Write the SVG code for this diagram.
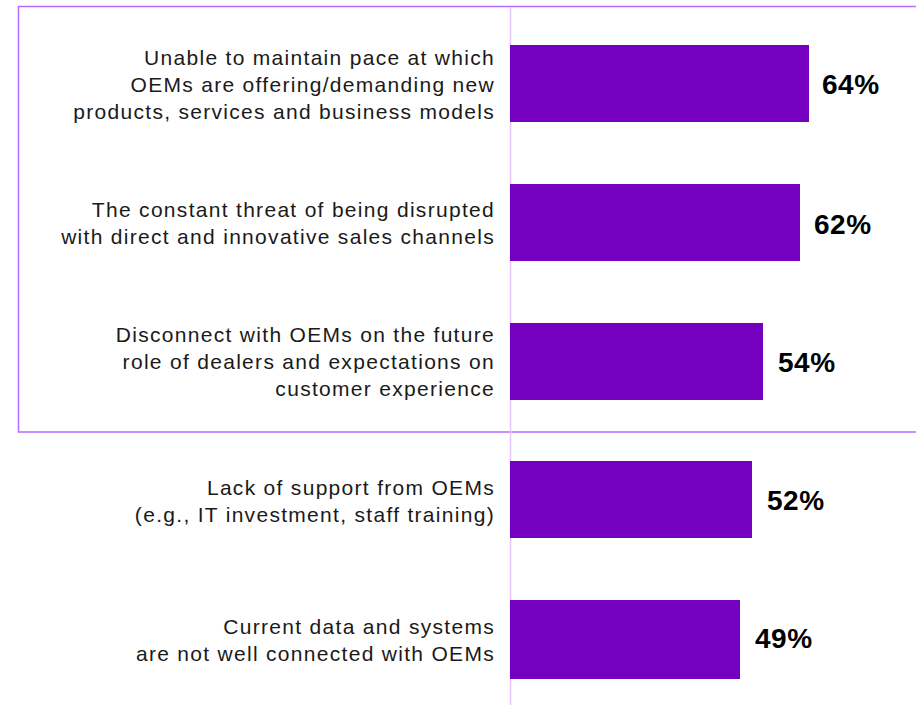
<svg xmlns="http://www.w3.org/2000/svg" width="916" height="705" viewBox="0 0 916 705">
<style>
.lbl{font-family:"Liberation Sans",Arial,sans-serif;font-size:21px;letter-spacing:1.3px;fill:#1a1a1a;text-anchor:end}
.val{font-family:"Liberation Sans",Arial,sans-serif;font-size:28px;font-weight:bold;letter-spacing:0.5px;fill:#000}
.bar{fill:#7500c0}
</style>
<rect x="0" y="0" width="916" height="705" fill="#fff"/>
<rect x="18.5" y="6.5" width="910" height="425.5" fill="none" stroke="#b46bff" stroke-width="1.5"/>
<g id="connectors">
<line x1="510.5" y1="7" x2="510.5" y2="705" stroke="#e4c6ff" stroke-width="1.5"/>
</g>
<g id="bar1">
<rect class="bar" x="510" y="45" width="299" height="77"/>
<text class="lbl" x="495"><tspan x="495" y="65">Unable to maintain pace at which</tspan><tspan x="495" y="92">OEMs are offering/demanding new</tspan><tspan x="495" y="119">products, services and business models</tspan></text>
<text class="val" x="822" y="94">64%</text>
</g>
<g id="bar2">
<rect class="bar" x="510" y="184" width="290" height="77"/>
<text class="lbl" x="495"><tspan x="495" y="217">The constant threat of being disrupted</tspan><tspan x="495" y="244">with direct and innovative sales channels</tspan></text>
<text class="val" x="814" y="234">62%</text>
</g>
<g id="bar3">
<rect class="bar" x="510" y="323" width="253" height="77"/>
<text class="lbl" x="495"><tspan x="495" y="342">Disconnect with OEMs on the future</tspan><tspan x="495" y="369">role of dealers and expectations on</tspan><tspan x="495" y="396">customer experience</tspan></text>
<text class="val" x="778" y="372">54%</text>
</g>
<g id="bar4">
<rect class="bar" x="510" y="461" width="242" height="77"/>
<text class="lbl" x="495"><tspan x="495" y="495">Lack of support from OEMs</tspan><tspan x="495" y="522">(e.g., IT investment, staff training)</tspan></text>
<text class="val" x="767" y="510">52%</text>
</g>
<g id="bar5">
<rect class="bar" x="510" y="600" width="230" height="79"/>
<text class="lbl" x="495"><tspan x="495" y="634">Current data and systems</tspan><tspan x="495" y="661">are not well connected with OEMs</tspan></text>
<text class="val" x="755" y="648">49%</text>
</g>
</svg>
